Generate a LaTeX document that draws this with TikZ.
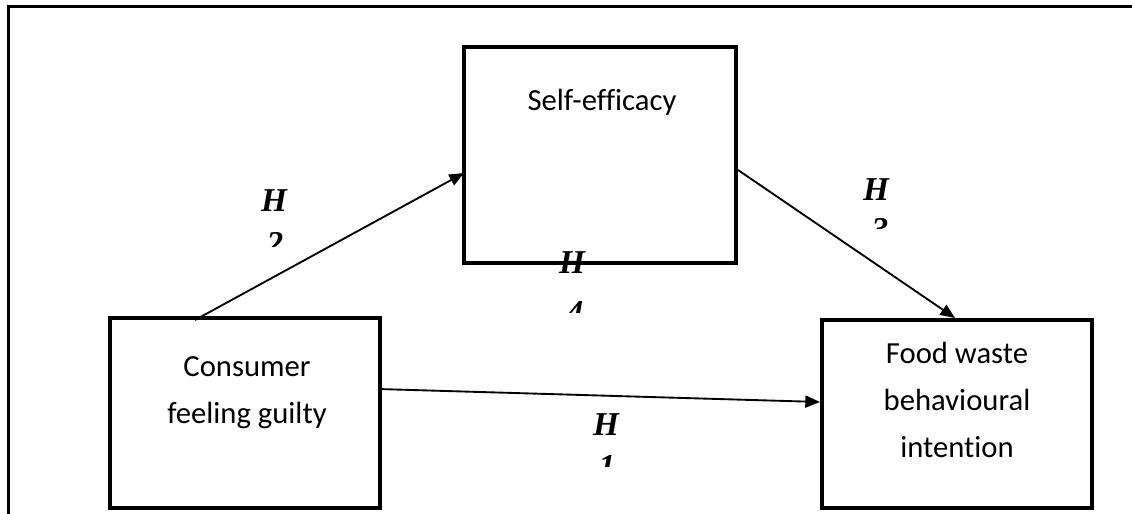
\documentclass[tikz,border=0pt]{standalone}
\usepackage{fontspec}
\setmainfont{Carlito}[Ligatures=NoCommon]
\newfontfamily\hfont{Liberation Serif}
\usetikzlibrary{arrows.meta}
\begin{document}
\begin{tikzpicture}[x=0.75pt,y=-0.75pt,
  box/.style={draw,line width=3pt,inner sep=0pt},
  txt/.style={font=\fontsize{23}{35}\selectfont,align=center,inner sep=0pt},
  hyp/.style={font=\hfont\bfseries\itshape\fontsize{25}{25}\selectfont,inner sep=0pt},
  conn/.style={line width=1.4pt,-{Triangle[length=11pt,width=9pt]}},
  frame/.style={line width=1.8pt}]
\useasboundingbox (0,0) rectangle (1132,514);
% outer frame (top and left only)
\coordinate (fa) at (8.5,520);
\coordinate (fb) at (8.5,6.5);
\coordinate (fc) at (1140,6.5);
\draw[frame] (fa) -- (fb) -- (fc);
% boxes
\node[box,minimum width=204pt,minimum height=162pt] (self) at (600,155) {};
\node[box,minimum width=202pt,minimum height=142pt] (cons) at (245,413) {};
\node[box,minimum width=202pt,minimum height=141pt] (food) at (957,414) {};
% texts
\node[txt] (selft) at (602,102) {Self-efficacy};
\node[txt] (const) at (247,393) {Consumer\\feeling guilty};
\node[txt] (foodt) at (957,400) {Food waste\\behavioural\\intention};
% connector end points
\coordinate (a1) at (195,320);
\coordinate (b1) at (464,173);
\coordinate (a2) at (738,170);
\coordinate (b2) at (955,318);
\coordinate (a3) at (378,389);
\coordinate (b3) at (820,402);
\draw[conn] (a1) -- (b1);
\draw[conn] (a2) -- (b2);
\draw[conn] (a3) -- (b3);
% hypothesis labels
\node[hyp] (h2) at (274,201) {H};
\node[hyp] (h4) at (572,263) {H};
\node[hyp] (h1) at (606,425) {H};
\node[hyp] (h3) at (876,190) {H};
\begin{scope}
\clip (255,232) rectangle (295,246);
\node[hyp,anchor=north] (d2) at (275,232) {2};
\end{scope}
\begin{scope}
\clip (555,301) rectangle (595,312);
\node[hyp,anchor=north] (d4) at (575,301) {4};
\end{scope}
\begin{scope}
\clip (587,455) rectangle (627,466);
\node[hyp,anchor=north] (d1) at (607,455) {1};
\end{scope}
\begin{scope}
\clip (860,218) rectangle (900,228);
\node[hyp,anchor=north] (d3) at (880,218) {3};
\end{scope}
\end{tikzpicture}
\end{document}
